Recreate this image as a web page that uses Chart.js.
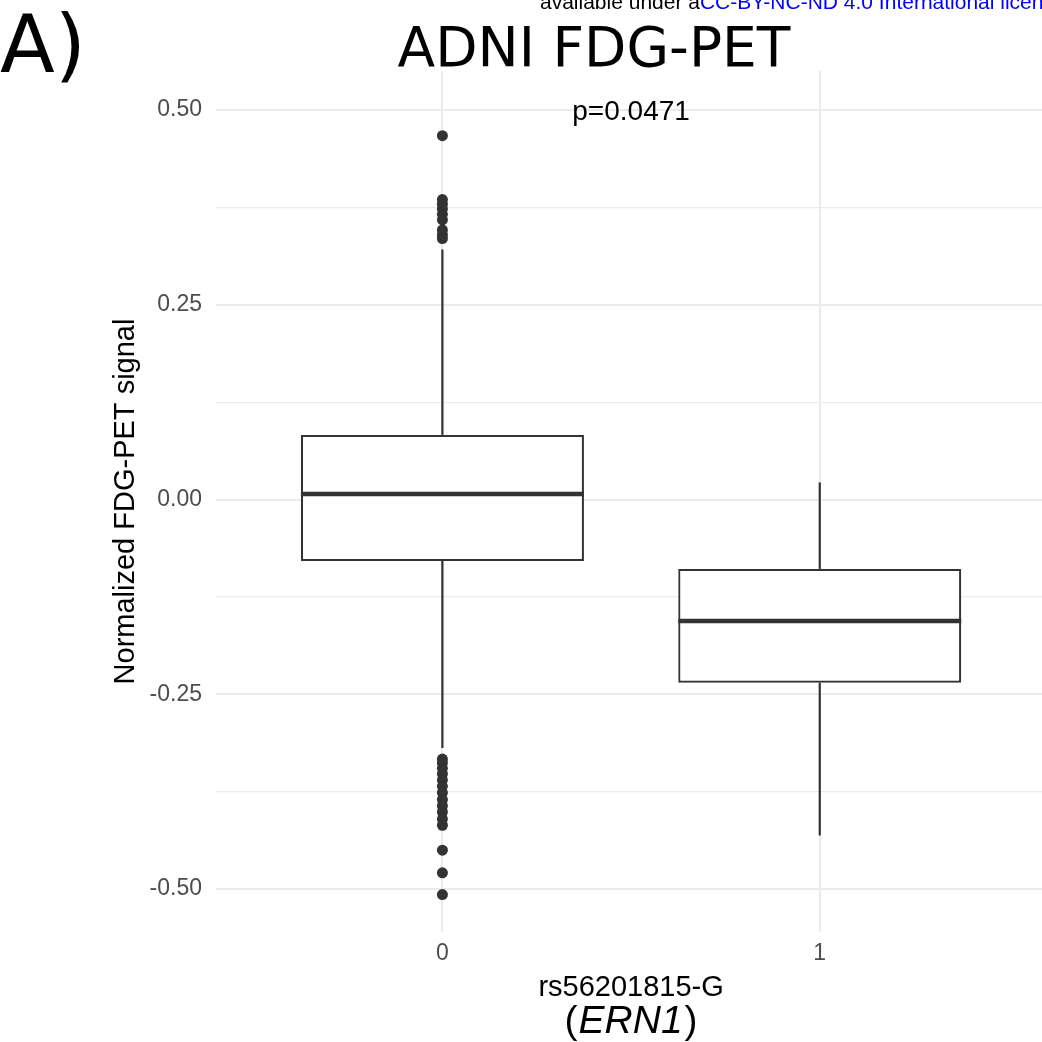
<!DOCTYPE html>
<html>
<head>
<meta charset="utf-8">
<title>ADNI FDG-PET</title>
<script src="https://cdn.jsdelivr.net/npm/chart.js@4.4.1/dist/chart.umd.min.js"></script>
<style>
  html, body { margin: 0; padding: 0; background: #fff; overflow: hidden; }
  #chartCanvas { display: block; }
</style>
</head>
<body>
<canvas id="chartCanvas" width="1042" height="1042"></canvas>
<script>
// Values

var groups = [0, 1]
var groupLabels = ['0', '1']

var boxQ1 = [-0.079, -0.235]
var boxMedian = [0.007, -0.156]
var boxQ3 = [0.083, -0.089]
var whiskerLow = [-0.319, -0.431]
var whiskerHigh = [0.321, 0.022]

// outliers of genotype 0 (genotype 1 has none)
var outliers0 = [0.467, 0.385, 0.379, 0.373, 0.366, 0.359, 0.346, 0.340, 0.335,
    -0.333, -0.338, -0.345, -0.352, -0.360, -0.368, -0.376, -0.385, -0.393,
    -0.401, -0.410, -0.418, -0.450, -0.479, -0.507]
var outliers1 = []

var yMajor = [-0.50, -0.25, 0.00, 0.25, 0.50]
var yMajorLabels = ['-0.50', '-0.25', '0.00', '0.25', '0.50']
var yMinor = [-0.375, -0.125, 0.125, 0.375]

var pValueText = 'p=0.0471'

var ink = '#333333'
var gridColor = '#ebebeb'
var boxHalf = 0.375

// build datasets from the arrays above
var boxData = groups.map(function(g, i) {
    return { x: g, y: [boxQ1[i], boxQ3[i]] }
})

var datasets = [{
    type: 'bar',
    label: 'box',
    data: boxData,
    backgroundColor: '#ffffff',
    borderColor: ink,
    borderWidth: 2.2,
    borderSkipped: false,
    barPercentage: 0.75,
    categoryPercentage: 1,
    order: 5
}]

groups.forEach(function(g, i) {
    datasets.push({
        type: 'line', label: 'upper whisker ' + g,
        data: [{ x: g, y: boxQ3[i] }, { x: g, y: whiskerHigh[i] }],
        borderColor: ink, borderWidth: 2.2, pointRadius: 0, borderCapStyle: 'butt', order: 4
    })
    datasets.push({
        type: 'line', label: 'lower whisker ' + g,
        data: [{ x: g, y: boxQ1[i] }, { x: g, y: whiskerLow[i] }],
        borderColor: ink, borderWidth: 2.2, pointRadius: 0, borderCapStyle: 'butt', order: 4
    })
    datasets.push({
        type: 'line', label: 'median ' + g,
        data: [{ x: g - boxHalf, y: boxMedian[i] }, { x: g + boxHalf, y: boxMedian[i] }],
        borderColor: ink, borderWidth: 4.5, pointRadius: 0, borderCapStyle: 'butt', order: 2
    })
})

var outlierPoints = outliers0.map(function(v) { return { x: 0, y: v } })
    .concat(outliers1.map(function(v) { return { x: 1, y: v } }))

datasets.push({
    type: 'scatter',
    label: 'outliers',
    data: outlierPoints,
    backgroundColor: ink,
    borderWidth: 0,
    pointRadius: 5.5,
    order: 1
})

// Text that ggplot put round the panel
var textPlugin = {
    id: 'textPlugin',
    afterDraw: function(chart) {
        var ctx = chart.ctx
        var xs = chart.scales.x
        var ys = chart.scales.y
        ctx.save()

        ctx.fillStyle = '#000'
        ctx.textAlign = 'left'
        ctx.textBaseline = 'alphabetic'
        ctx.font = '80px "DejaVu Sans"'
        ctx.fillText('A)', 0, 72)

        ctx.textAlign = 'center'
        ctx.font = '55px "DejaVu Sans"'
        ctx.fillText('ADNI FDG-PET', 594, 66)

        // cut-off licence line at the very top
        ctx.textAlign = 'left'
        ctx.font = '21px "Liberation Sans"'
        var part1 = 'available under a'
        ctx.fillText(part1, 540, 9)
        ctx.fillStyle = '#0000ff'
        ctx.fillText('CC-BY-NC-ND 4.0 International license', 540 + ctx.measureText(part1).width, 9)

        // p value annotation
        ctx.fillStyle = '#000'
        ctx.textAlign = 'center'
        ctx.textBaseline = 'middle'
        ctx.font = '28px "Liberation Sans"'
        ctx.fillText(pValueText, xs.getPixelForValue(0.5), ys.getPixelForValue(0.5) + 2)

        // y axis title
        ctx.save()
        ctx.translate(126, (chart.chartArea.top + chart.chartArea.bottom) / 2)
        ctx.rotate(-Math.PI / 2)
        ctx.font = '29px "Liberation Sans"'
        ctx.fillText('Normalized FDG-PET signal', 0, 0)
        ctx.restore()

        // x axis title, two lines, gene name in italics
        var cx = xs.getPixelForValue(0.5)
        ctx.textBaseline = 'alphabetic'
        ctx.textAlign = 'center'
        ctx.font = '29px "Liberation Sans"'
        ctx.fillText('rs56201815-G', cx, 996)

        ctx.textAlign = 'left'
        var upright = '39px "Liberation Sans"'
        var italic = 'italic 39px "Liberation Sans"'
        ctx.font = upright
        var wOpen = ctx.measureText('(').width
        var wClose = ctx.measureText(')').width
        ctx.font = italic
        var wGene = ctx.measureText('ERN1').width
        var x0 = cx - (wOpen + wGene + wClose + 3) / 2
        ctx.font = upright
        ctx.fillText('(', x0, 1033)
        ctx.font = italic
        ctx.fillText('ERN1', x0 + wOpen + 1, 1033)
        ctx.font = upright
        ctx.fillText(')', x0 + wOpen + wGene + 3, 1033)

        ctx.restore()
    }
}

var canvas = document.getElementById('chartCanvas')
var myChart = new Chart(canvas.getContext('2d'), {
    type: 'scatter',
    data: { datasets: datasets },
    options: {
        responsive: false,
        animation: false,
        layout: { autoPadding: false, padding: { top: 71, right: 0, bottom: 0, left: 0 } },
        plugins: {
            legend: { display: false },
            tooltip: { enabled: false },
            title: { display: false }
        },
        scales: {
            x: {
                type: 'linear',
                min: -0.6,
                max: 1.589,
                offset: false,
                border: { display: false },
                grid: {
                    color: gridColor, lineWidth: 2, drawTicks: false, offset: false
                },
                afterBuildTicks: function(scale) {
                    scale.ticks = groups.map(function(g) { return { value: g } })
                },
                afterFit: function(scale) { scale.height = 110 },
                ticks: {
                    padding: 8,
                    color: '#4d4d4d',
                    font: { family: 'Liberation Sans', size: 23 },
                    callback: function(v) {
                        var i = groups.indexOf(v)
                        return i >= 0 ? groupLabels[i] : ''
                    }
                }
            },
            y: {
                type: 'linear',
                min: -0.555,
                max: 0.55,
                border: { display: false },
                grid: {
                    color: gridColor,
                    drawTicks: false,
                    lineWidth: function(c) {
                        return yMajor.indexOf(c.tick.value) >= 0 ? 2 : 1.2
                    }
                },
                afterBuildTicks: function(scale) {
                    scale.ticks = yMajor.concat(yMinor).sort(function(a, b) { return a - b })
                        .map(function(v) { return { value: v } })
                },
                afterFit: function(scale) { scale.width = 216 },
                ticks: {
                    padding: 14,
                    color: '#4d4d4d',
                    font: { family: 'Liberation Sans', size: 23 },
                    callback: function(v) {
                        var i = yMajor.indexOf(v)
                        return i >= 0 ? yMajorLabels[i] : ''
                    }
                }
            }
        }
    },
    plugins: [textPlugin]
})
</script>
</body>
</html>
